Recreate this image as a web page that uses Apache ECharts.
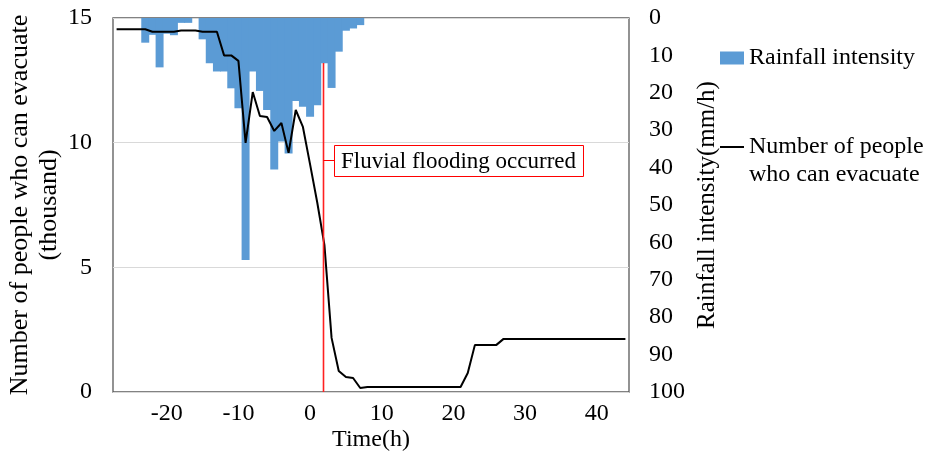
<!DOCTYPE html>
<html>
<head>
	<meta charset="utf-8">
	<title>Rainfall and evacuation</title>
	<style>
		body { margin: 0; background: #fff; }
		#chart { width: 929px; height: 457px; }
	</style>
</head>
<body>
	<div id="chart"></div>
	<script src="https://cdn.jsdelivr.net/npm/echarts@6.0.0/dist/echarts.min.js"></script>
	<script>
		// hours relative to flooding, one point per hour
		var hours = [];
		for (var h = -27; h <= 44; h++) hours.push(h);

		// number of people who can evacuate (thousand), hours -27..44
		var evacuate = [
			14.55, 14.55, 14.55, 14.55, 14.55, 14.45, 14.45, 14.45, 14.45, 14.5,
			14.5, 14.5, 14.45, 14.45, 14.45, 13.5, 13.5, 13.28, 9.99, 12.03,
			11.07, 11.03, 10.47, 10.79, 9.59, 11.31, 10.63, 9.13, 7.6, 5.9,
			2.17, 0.84, 0.6, 0.56, 0.16, 0.2, 0.2, 0.2, 0.2, 0.2,
			0.2, 0.2, 0.2, 0.2, 0.2, 0.2, 0.2, 0.2, 0.2, 0.76,
			1.89, 1.89, 1.89, 1.89, 2.13, 2.13, 2.13, 2.13, 2.13, 2.13,
			2.13, 2.13, 2.13, 2.13, 2.13, 2.13, 2.13, 2.13, 2.13, 2.13,
			2.13, 2.13
		];

		// rainfall intensity (mm/h), hours -23..7
		var rainHours = [];
		for (var r = -23; r <= 7; r++) rainHours.push(r);
		var rainfall = [
			6.6, 4.5, 13.2, 4.2, 4.6, 1.3, 1.3, 0, 5.7, 12.1,
			14.3, 14.3, 18.8, 24.1, 64.7, 14.3, 19.5, 24.6, 40.5, 33,
			36.2, 22.2, 23.7, 26.4, 23.3, 12.1, 18.7, 9, 3.4, 2.8,
			1.9
		];

		var xTicks = [-20, -10, 0, 10, 20, 30, 40];
		var floodHour = 1.85;
		var floodTop = 13.2;

		var font = 'Liberation Serif, Times New Roman, serif';
		var xMin = -27.5, xMax = 44.5;
		var gridLeft = 113, gridRight = 300;
		var barW = (929 - gridLeft - gridRight) / (xMax - xMin);

		var byId = function(id) {
			return document.getElementById(id);
		};

		var option = {
			animation: false,
			grid: {
				left: gridLeft,
				right: gridRight,
				top: 18,
				bottom: 65,
				outerBoundsMode: 'none',
				containLabel: false,
				show: true,
				borderColor: '#595959',
				borderWidth: 1.3
			},
			legend: {
				orient: 'vertical',
				left: 715,
				top: 39,
				itemWidth: 24,
				itemHeight: 13,
				itemGap: 33,
				textStyle: { fontFamily: font, fontSize: 24, color: '#000', lineHeight: 28 },
				formatter: function(name) {
					if (name === 'Rainfall intensity') return name;
					return '\nNumber of people\nwho can evacuate';
				},
				data: [
					{ name: 'Rainfall intensity', icon: 'rect' },
					{ name: 'Number of people who can evacuate', icon: 'path://M0 0H24V2H0Z' }
				]
			},
			xAxis: {
				type: 'value',
				min: xMin,
				max: xMax,
				name: 'Time(h)',
				nameLocation: 'middle',
				nameGap: 36,
				nameMoveOverlap: false,
				nameTextStyle: { fontFamily: font, fontSize: 24, color: '#000' },
				axisLine: { show: false },
				axisTick: { show: false },
				splitLine: { show: false },
				axisLabel: {
					customValues: xTicks,
					margin: 10,
					fontFamily: font,
					fontSize: 24,
					color: '#000'
				}
			},
			yAxis: [{
				type: 'value',
				min: 0,
				max: 15,
				interval: 5,
				name: 'Number of people who can evacuate\n(thousand)',
				nameLocation: 'middle',
				nameRotate: 90,
				nameGap: 49,
				nameMoveOverlap: false,
				nameTextStyle: { fontFamily: font, fontSize: 26, color: '#000', lineHeight: 29 },
				axisLine: { show: false },
				axisTick: { show: false },
				splitLine: { lineStyle: { color: '#d9d9d9', width: 1 } },
				axisLabel: { margin: 21, fontFamily: font, fontSize: 24, color: '#000' }
			}, {
				type: 'value',
				min: 0,
				max: 100,
				interval: 10,
				inverse: true,
				name: 'Rainfall intensity(mm/h)',
				nameLocation: 'middle',
				nameRotate: 90,
				nameGap: 66,
				nameMoveOverlap: false,
				nameTextStyle: { fontFamily: font, fontSize: 25, color: '#000' },
				axisLine: { show: false },
				axisTick: { show: false },
				splitLine: { show: false },
				axisLabel: { margin: 20, fontFamily: font, fontSize: 24, color: '#000' }
			}],
			series: [{
				name: 'Rainfall intensity',
				type: 'bar',
				yAxisIndex: 1,
				barWidth: barW + 0.8,
				itemStyle: { color: '#5b9bd5' },
				data: rainHours.map(function(t, i) { return [t, rainfall[i]]; })
			}, {
				name: 'Number of people who can evacuate',
				type: 'line',
				yAxisIndex: 0,
				symbol: 'none',
				lineStyle: { color: '#000', width: 2 },
				itemStyle: { color: '#000' },
				data: hours.map(function(t, i) { return [t, evacuate[i]]; })
			}]
		};

		var chart = echarts.init(byId('chart'));
		chart.setOption(option);

		// flooding marker: red vertical line with a labelled box
		var p0 = chart.convertToPixel({ xAxisIndex: 0, yAxisIndex: 0 }, [floodHour, 0]);
		var p1 = chart.convertToPixel({ xAxisIndex: 0, yAxisIndex: 0 }, [floodHour, floodTop]);
		var p = chart.convertToPixel({ xAxisIndex: 0, yAxisIndex: 0 }, [floodHour, 9.3]);
		var lx = Math.round(p0[0]) + 0.5;
		var ly = Math.round(p[1]) + 0.5;
		var boxX = Math.round(lx + 10) + 0.5;
		chart.setOption({
			graphic: [{
				type: 'line',
				z: 100,
				shape: { x1: lx, y1: p0[1], x2: lx, y2: p1[1] },
				style: { stroke: '#ff2020', lineWidth: 1.6 }
			}, {
				type: 'line',
				z: 100,
				shape: { x1: lx, y1: ly, x2: boxX, y2: ly },
				style: { stroke: '#ff0000', lineWidth: 1 }
			}, {
				type: 'rect',
				z: 100,
				shape: { x: boxX, y: ly - 15, width: 249, height: 31 },
				style: { fill: '#fff', stroke: '#ff0000', lineWidth: 1 }
			}, {
				type: 'text',
				z: 101,
				x: boxX + 124,
				y: ly + 1,
				style: {
					text: 'Fluvial flooding occurred',
					fontFamily: font,
					fontSize: 23,
					fill: '#000',
					align: 'center',
					verticalAlign: 'middle'
				}
			}]
		});
	</script>
</body>
</html>
